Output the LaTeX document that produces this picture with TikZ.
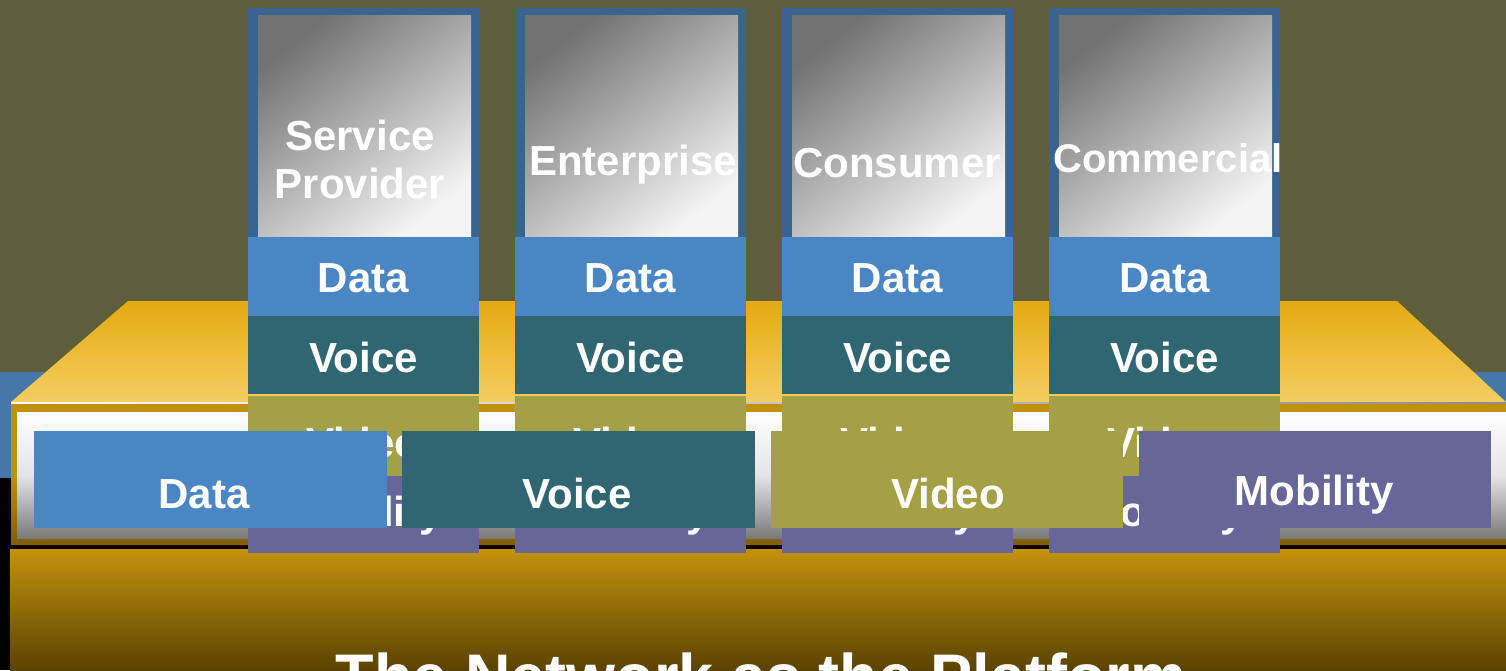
\documentclass[tikz,border=0pt]{standalone}
\usepackage{fontspec}
\setmainfont{Liberation Sans}
\definecolor{bgolive}{RGB}{94,94,60}
\definecolor{bandblue}{RGB}{69,119,168}
\definecolor{colborder}{RGB}{58,100,144}
\definecolor{cdata}{RGB}{74,134,196}
\definecolor{cvoice}{RGB}{47,102,114}
\definecolor{cvideo}{RGB}{163,160,69}
\definecolor{cmob}{RGB}{102,102,153}
\definecolor{trtop}{RGB}{228,170,16}
\definecolor{trbot}{RGB}{245,205,98}
\definecolor{gold}{RGB}{192,144,16}
\definecolor{goldbot}{RGB}{128,94,4}
\definecolor{basetop}{RGB}{196,146,14}
\definecolor{basebot}{RGB}{88,66,0}
\definecolor{silverdark}{RGB}{114,114,114}
\definecolor{silvermid}{RGB}{132,132,132}
\definecolor{silverlight}{RGB}{244,244,244}
\definecolor{framegray}{RGB}{122,122,122}
\begin{document}
\begin{tikzpicture}[x=1pt,y=-1pt,
  lbl/.style={text=white,font=\fontsize{42}{46}\selectfont\bfseries,inner sep=0pt,anchor=base},
  hdr/.style={lbl},
  title/.style={text=white,font=\fontsize{63}{70}\selectfont\bfseries,inner sep=0pt,anchor=base}]
\useasboundingbox (0,0) rectangle (1506,670);
% background
\fill[bgolive] (0,0) rectangle (1506,670);
\fill[bandblue] (0,372) rectangle (1506,478);
\fill[black] (0,478) rectangle (1506,670);
% platform top face
\shade[top color=trtop,bottom color=trbot] (11,402) -- (128,301) -- (1397,301) -- (1506,402) -- cycle;
\shade[left color=white,right color=gray!90] (11,402) rectangle (1506,404);
% platform front face
\shade[top color=gold,bottom color=goldbot,middle color=gold] (11,404) rectangle (1506,544);
\shade[top color=white,bottom color=framegray,middle color=white!80!framegray] (17,412) rectangle (1506,538);
% platform base
\shade[top color=basetop,bottom color=basebot] (10,549) rectangle (1506,672);
% columns
\foreach \x/\n in {248/a,515/b,782/c,1049/d}{
  \fill[colborder] (\x,8) rectangle ++(231,229);
  \shade[top color=silverdark,middle color=silvermid,bottom color=silverlight,shading angle=38] (\x+10,15) rectangle (\x+223,237);
  \fill[cdata] (\x,237) rectangle ++(231,79);
  \fill[cvoice] (\x,316) rectangle ++(231,78);
  \fill[cvideo] (\x,396) rectangle ++(231,80);
  \fill[cmob] (\x,476) rectangle ++(231,77);
  \node[lbl] (data\n) at (\x+115.5,292) {Data};
  \node[lbl] (voice\n) at (\x+115.5,372) {Voice};
  \node[lbl] (video\n) at (\x+115.5,457) {Video};
  \node[lbl] (mob\n) at (\x+115.5,526) {Mobility};
}
% column headers
\node[hdr] (hsp1) at (360,150) {Service};
\node[hdr] (hsp2) at (360,198) {Provider};
\node[hdr] (hent) at (633,175) {Enterprise};
\node[hdr] (hcon) at (897,177) {Consumer};
\node[hdr,font=\fontsize{40}{46}\selectfont\bfseries] (hcom) at (1168,172) {Commercial};
% front bars
\fill[cdata] (34,431) rectangle (387,528);
\fill[cvoice] (402,431) rectangle (755,528);
\fill[cvideo] (771,431) rectangle (1123,528);
\fill[cmob] (1139,431) rectangle (1491,528);
\node[lbl] (bdata) at (204,508) {Data};
\node[lbl] (bvoice) at (577,508) {Voice};
\node[lbl] (bvideo) at (948,508) {Video};
\node[lbl] (bmob) at (1314,505) {Mobility};
% title
\node[title] (ttl) at (761,698) {The Network as the Platform};
\end{tikzpicture}
\end{document}
